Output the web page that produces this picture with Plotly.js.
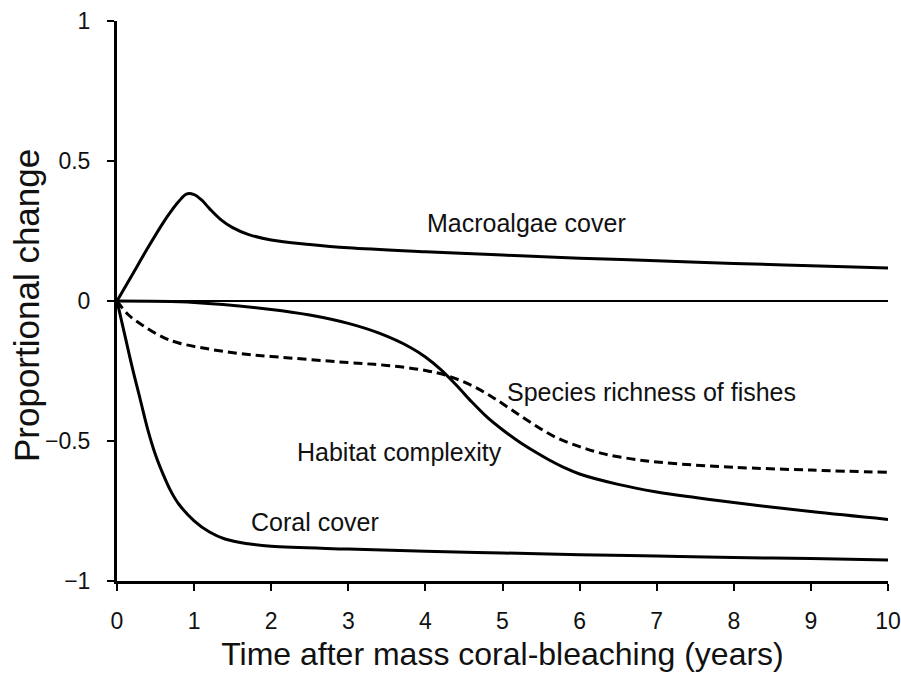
<!DOCTYPE html>
<html>
<head>
<meta charset="utf-8">
<script src="https://cdn.plot.ly/plotly-3.0.1.min.js"></script>
<style>html,body{margin:0;padding:0;background:#fff;}#chart{width:901px;height:681px;}</style>
</head>
<body>
<div id="chart"></div>
<script>
// Years after mass coral-bleaching
const macroX = [0, 0.2, 0.4, 0.6, 0.7, 0.8, 0.9, 1.0, 1.1, 1.2, 1.35, 1.5, 1.7, 2, 2.5, 3, 4, 5, 6, 7, 8, 9, 10];
const macroY = [0, 0.095, 0.19, 0.28, 0.32, 0.355, 0.382, 0.38, 0.36, 0.33, 0.29, 0.262, 0.238, 0.218, 0.202, 0.19, 0.176, 0.164, 0.153, 0.144, 0.134, 0.126, 0.118];

const habitatX = [0, 1, 2, 2.5, 3, 3.4, 3.8, 4.0, 4.2, 4.4, 4.6, 4.8, 5.0, 5.2, 5.4, 5.6, 5.8, 6.0, 6.5, 7, 7.5, 8, 9, 10];
const habitatY = [0, -0.005, -0.03, -0.05, -0.08, -0.115, -0.165, -0.2, -0.245, -0.3, -0.36, -0.415, -0.46, -0.5, -0.535, -0.567, -0.595, -0.618, -0.655, -0.682, -0.702, -0.72, -0.752, -0.78];

const fishX = [0, 0.15, 0.35, 0.6, 0.8, 1.2, 1.6, 2, 3, 3.5, 4, 4.3, 4.6, 4.85, 5.1, 5.4, 5.7, 6.0, 6.3, 6.65, 7, 7.5, 8, 9, 10];
const fishY = [0, -0.05, -0.09, -0.13, -0.15, -0.172, -0.188, -0.198, -0.22, -0.23, -0.248, -0.268, -0.302, -0.34, -0.385, -0.44, -0.488, -0.52, -0.545, -0.563, -0.575, -0.586, -0.594, -0.604, -0.612];

const coralX = [0, 0.1, 0.2, 0.3, 0.4, 0.5, 0.6, 0.7, 0.8, 1.0, 1.2, 1.4, 1.7, 2, 3, 4, 5, 6, 7, 8, 9, 10];
const coralY = [0, -0.12, -0.24, -0.35, -0.46, -0.55, -0.62, -0.68, -0.725, -0.785, -0.825, -0.85, -0.867, -0.876, -0.886, -0.894, -0.9, -0.906, -0.911, -0.916, -0.92, -0.925];

const labels = ["Macroalgae cover", "Species richness of fishes", "Habitat complexity", "Coral cover"];
const labelX = [5.31, 6.93, 3.67, 2.57];
const labelY = [0.28, -0.325, -0.54, -0.79];

const xTicks = [0, 1, 2, 3, 4, 5, 6, 7, 8, 9, 10];
const yTicks = [-1, -0.5, 0, 0.5, 1];
const yTickText = ["\u22121", "\u22120.5", "0", "0.5", "1"];

const xTitle = "Time after mass coral-bleaching (years)";
const yTitle = "Proportional change";

const lineStyle = (dash) => ({color: "#000", width: 3, shape: "spline", smoothing: 1, dash: dash});

const traces = [
  {x: macroX, y: macroY, mode: "lines", line: lineStyle("solid"), name: labels[0]},
  {x: habitatX, y: habitatY, mode: "lines", line: lineStyle("solid"), name: labels[2]},
  {x: fishX, y: fishY, mode: "lines", line: lineStyle("9px,5px"), name: labels[1]},
  {x: coralX, y: coralY, mode: "lines", line: lineStyle("solid"), name: labels[3]}
];

const font = "Arial, 'Liberation Sans', Helvetica, sans-serif";

const annotations = labels.map((t, i) => ({
  x: labelX[i], y: labelY[i], xref: "x", yref: "y", text: t, showarrow: false,
  font: {family: font, size: 25, color: "#111"}, xanchor: "center", yanchor: "middle"
}));
annotations.push({
  x: 0, y: 0.491, xref: "paper", yref: "paper", xshift: -91, text: yTitle, showarrow: false,
  textangle: -90, font: {family: font, size: 35, color: "#111"}, xanchor: "center", yanchor: "middle"
});

const layout = {
  width: 901, height: 681,
  margin: {l: 117, r: 13, t: 21, b: 100, pad: 0},
  paper_bgcolor: "#fff", plot_bgcolor: "#fff",
  showlegend: false,
  font: {family: font, color: "#111"},
  xaxis: {
    range: [0, 10], tickvals: xTicks, ticktext: xTicks.map(String),
    showgrid: false, zeroline: false,
    showline: true, linecolor: "#000", linewidth: 3,
    ticks: "outside", ticklen: 7, tickwidth: 2, tickcolor: "#000",
    tickfont: {family: font, size: 23, color: "#111"}, ticklabelstandoff: 10,
    ticklabeloverflow: "allow",
    title: {text: xTitle, font: {family: font, size: 32, color: "#111"}, standoff: 11},
    automargin: false
  },
  yaxis: {
    range: [-1, 1], tickvals: yTicks, ticktext: yTickText,
    showgrid: false, zeroline: true, zerolinecolor: "#000", zerolinewidth: 1.5,
    showline: true, linecolor: "#000", linewidth: 3,
    ticks: "outside", ticklen: 7, tickwidth: 2, tickcolor: "#000",
    tickfont: {family: font, size: 23, color: "#111"}, ticklabelstandoff: 12,
    ticklabeloverflow: "allow",
    automargin: false
  },
  annotations: annotations
};

Plotly.newPlot("chart", traces, layout, {displayModeBar: false, staticPlot: true});
</script>
</body>
</html>
